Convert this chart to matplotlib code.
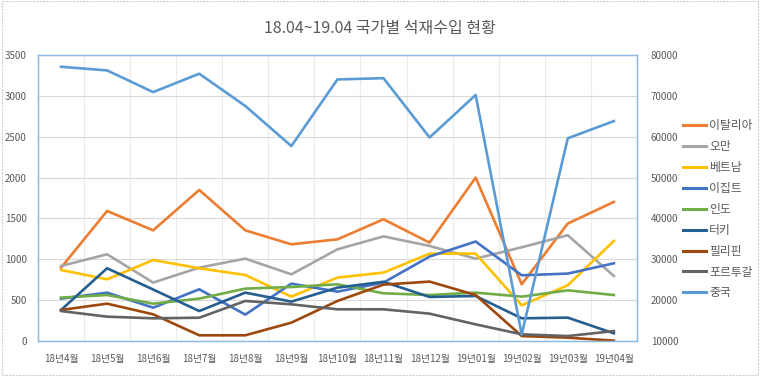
"""18.04~19.04 country stone import chart."""

import matplotlib.pyplot as plt
import numpy as np
from matplotlib.lines import Line2D
from matplotlib.patches import Rectangle

plt.rcParams["font.family"] = ["Noto Sans CJK KR", "DejaVu Sans"]

months = ["18년4월", "18년5월", "18년6월", "18년7월", "18년8월", "18년9월", "18년10월",
          "18년11월", "18년12월", "19년01월", "19년02월", "19년03월", "19년04월"]

italy = [897, 1591, 1354, 1848, 1354, 1183, 1244, 1489, 1204, 1999, 694, 1437, 1702]
oman = [918, 1061, 715, 898, 1008, 816, 1122, 1280, 1163, 1008, 1147, 1294, 796]
vietnam = [869, 755, 991, 890, 808, 543, 776, 837, 1069, 1069, 437, 682, 1224]
egypt = [519, 592, 408, 633, 323, 702, 604, 715, 1033, 1217, 804, 825, 951]
india = [531, 563, 457, 519, 641, 661, 694, 584, 563, 592, 543, 620, 563]
turkey = [380, 890, 630, 367, 592, 482, 653, 725, 539, 551, 278, 286, 94]
philippines = [380, 457, 327, 70, 70, 225, 490, 690, 727, 563, 61, 41, 5]
portugal = [367, 298, 278, 285, 490, 449, 388, 388, 335, 204, 82, 61, 122]
china = [77100, 76200, 70900, 75400, 67500, 57700, 74000, 74300, 59800,
         70200, 11600, 59600, 63800]

left_series = [
    ("이탈리아", italy, "#ED7D31"),
    ("오만", oman, "#A5A5A5"),
    ("베트남", vietnam, "#FFC000"),
    ("이집트", egypt, "#4472C4"),
    ("인도", india, "#70AD47"),
    ("터키", turkey, "#255E91"),
    ("필리핀", philippines, "#9E480E"),
    ("포르투갈", portugal, "#636363"),
]
china_color = "#5B9BD5"
text_color = "#595959"

fig = plt.figure(figsize=(7.6, 3.76), dpi=100)
fig.patches.append(Rectangle((0.002, 0.003), 0.996, 0.994, transform=fig.transFigure,
                             fill=False, edgecolor="#D0D0D0", linewidth=0.8,
                             linestyle=(0, (2, 1))))
ax = fig.add_axes([0.05, 0.093, 0.788, 0.761])
x = np.arange(len(months))

for name, values, color in left_series:
    ax.plot(x, values, color=color, linewidth=1.9, label=name)

ax.set_xlim(-0.5, len(months) - 0.5)
ax.set_ylim(0, 3500)
ax.set_yticks(np.arange(0, 3501, 500))
ax.set_xticks(x)
ax.set_xticklabels(months)
ax.set_xticks(np.arange(-0.5, len(months), 0.5), minor=True)
ax.grid(axis="y", color="#D9D9D9", linewidth=0.8)
ax.grid(axis="x", which="minor", color="#EBEBEB", linewidth=0.8)
ax.set_axisbelow(True)
ax.tick_params(axis="both", which="both", length=0, colors=text_color, labelsize=7)
ax.tick_params(axis="x", pad=9)
ax.tick_params(axis="y", pad=8)

ax2 = ax.twinx()
ax2.plot(x, china, color=china_color, linewidth=1.9, label="중국")
ax2.set_ylim(10000, 80000)
ax2.set_yticks(np.arange(10000, 80001, 10000))
ax2.tick_params(axis="y", length=0, colors=text_color, labelsize=7, pad=10)

for a in (ax, ax2):
    for side in ("left", "right", "top", "bottom"):
        a.spines[side].set_color("#8DB9E2")
        a.spines[side].set_linewidth(0.9)

fig.text(0.5, 0.925, "18.04~19.04 국가별 석재수입 현황", ha="center", va="center",
         fontsize=11.5, color=text_color)

handles = [Line2D([], [], color=c, linewidth=2.2) for _, _, c in left_series]
handles.append(Line2D([], [], color=china_color, linewidth=2.2))
labels = [n for n, _, _ in left_series] + ["중국"]
fig.legend(handles, labels, loc="upper left", bbox_to_anchor=(0.899, 0.683),
           frameon=False, fontsize=8.5, labelcolor=text_color, handlelength=1.9,
           handletextpad=0.3, labelspacing=0.67, borderaxespad=0, borderpad=0)

fig.savefig("out.png", dpi=100)
